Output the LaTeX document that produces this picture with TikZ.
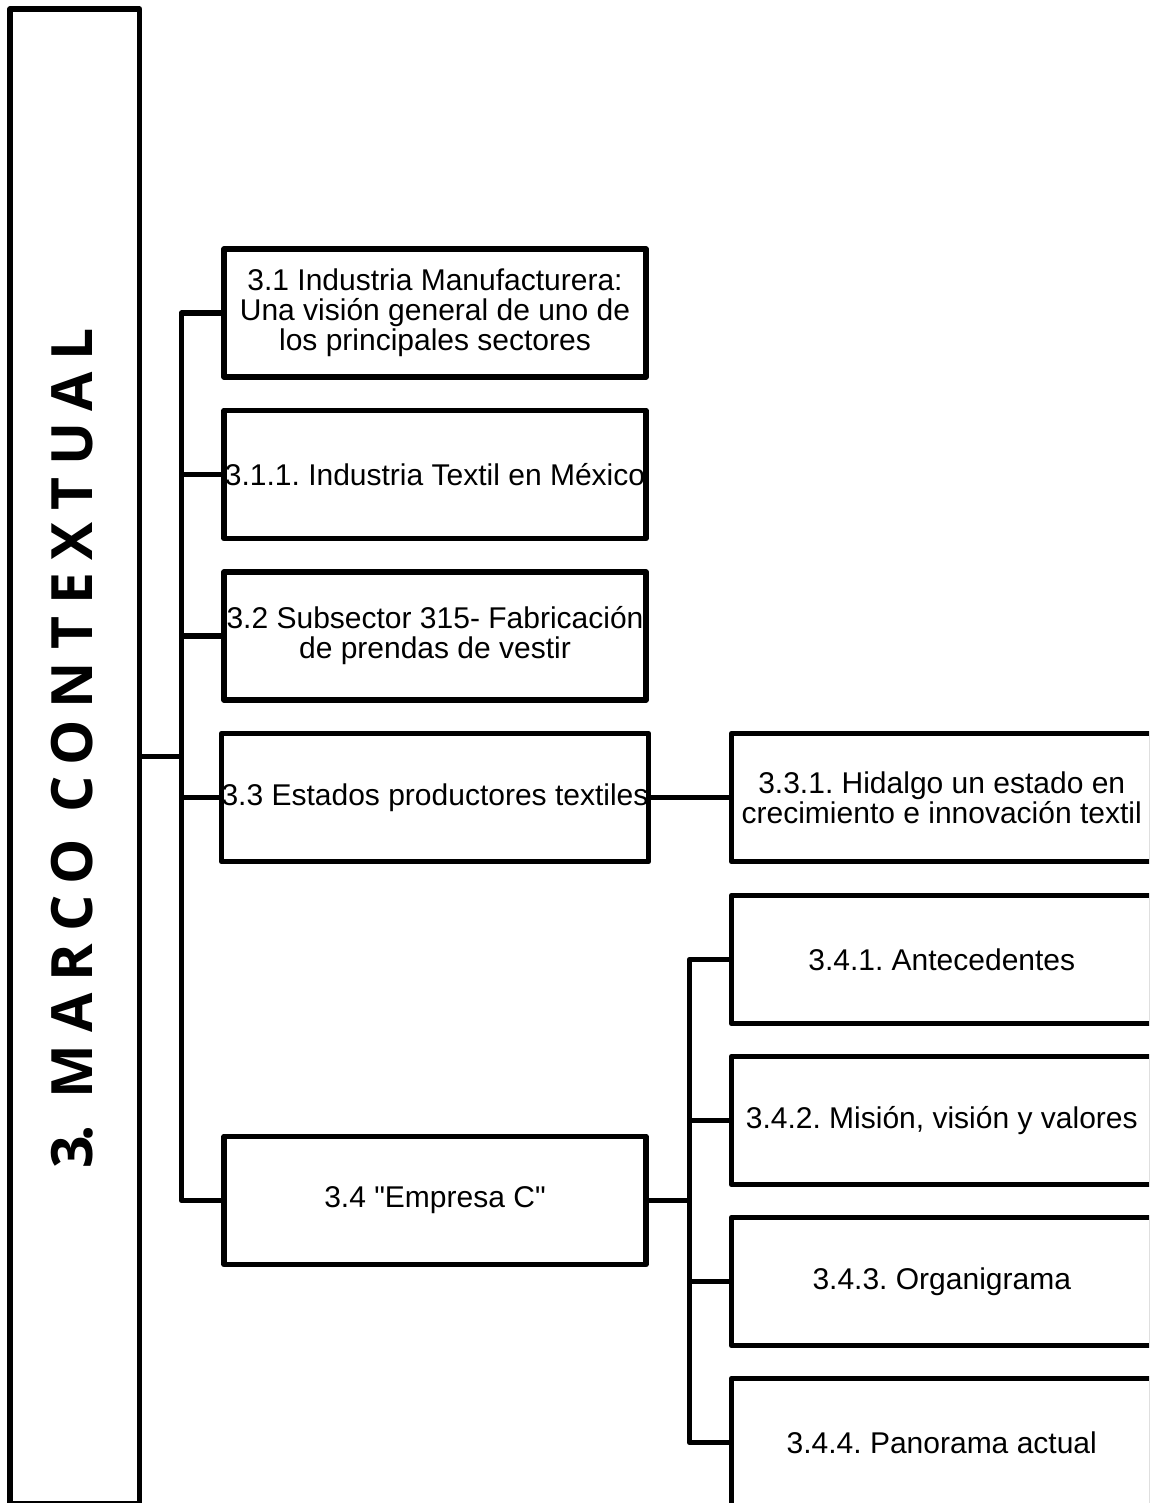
\documentclass[tikz,border=0pt]{standalone}
\usepackage{fontspec}
\setmainfont{Liberation Sans}
\newfontfamily\bodyfont{Liberation Sans}
\newfontfamily\titlefont{Open Sans Bold}[LetterSpace=21]
\frenchspacing
\begin{document}
\begin{tikzpicture}[x=1pt, y=-1pt, line join=round,
  box/.style={draw, line width=5.5pt, rectangle, inner sep=0pt, outer sep=0pt,
    minimum width=422pt, minimum height=128pt, align=center,
    font=\bodyfont\fontsize{30}{30}\selectfont},
  rbox/.style={box, minimum width=420.5pt},
  link/.style={line width=5.5pt}]
\useasboundingbox (0,0) rectangle (1149,1503);
\clip (0,0) rectangle (1149,1503);

% tall title panel
\node[box, minimum width=129.5pt, minimum height=1495pt] (title) at (74.75,756.5) {};
\node[rotate=90, anchor=base, inner sep=0pt,
  font=\titlefont\fontsize{57}{57}\selectfont] (titletext) at (92.5,754)
  {3\kern-0.1em. MARCO CONTEXTUAL\kern-0.21em};

% first level
\node[box] (b31)  at (435,313)    {3.1 Industria Manufacturera:\\Una visión general de uno de\\los principales sectores};
\node[box] (b311) at (435,474.5)  {3.1.1. Industria Textil en México};
\node[box] (b32)  at (435,636)    {3.2 Subsector 315- Fabricación\\de prendas de vestir};
\node[box] (b33)  at (435,797.5)  {3.3 Estados productores textiles};
\node[box] (b34)  at (435,1200.5) {3.4 "Empresa C"};

% second level
\node[rbox] (b331) at (941.75,797.5)  {3.3.1. Hidalgo un estado en\\crecimiento e innovación textil};
\node[rbox] (b341) at (941.75,959.5)  {3.4.1. Antecedentes};
\node[rbox] (b342) at (941.75,1120.5) {3.4.2. Misión, visión y valores};
\node[rbox] (b343) at (941.75,1281.5) {3.4.3. Organigrama};
\node[rbox] (b344) at (941.75,1442.5) {3.4.4. Panorama actual};

% connectors
\coordinate (jA) at (181.5,756.5);
\draw[link] (title.east |- jA) -- (jA);
\draw[link] (b31.west) -| (jA) |- (b34.west);
\foreach \n in {b311,b32,b33} \draw[link] (\n.west) -- (\n.west -| jA);

\draw[link] (b33.east) -- (b331.west);

\coordinate (jB) at (689.5,1200.5);
\draw[link] (b34.east) -- (jB);
\draw[link] (b341.west) -| (jB) |- (b344.west);
\foreach \n in {b342,b343} \draw[link] (\n.west) -- (\n.west -| jB);
\end{tikzpicture}
\end{document}
